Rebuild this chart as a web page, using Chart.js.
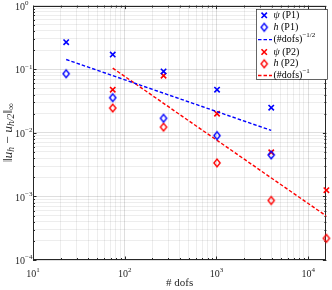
<!DOCTYPE html>
<html>
<head>
<meta charset="utf-8">
<script src="https://cdn.jsdelivr.net/npm/chart.js@4.4.1/dist/chart.umd.min.js"></script>
<style>
  html, body { margin: 0; padding: 0; background: #fff; }
</style>
</head>
<body>
<canvas id="conv" width="332" height="290"></canvas>
<script>
// values
const dofsP1 = [23, 74, 265, 1015, 3955];
const psiP1  = [0.266, 0.170, 0.0922, 0.0476, 0.0248];
const hP1    = [0.0849, 0.0357, 0.0169, 0.00904, 0.00449];

const dofsP2 = [74, 265, 1015, 3955, 15800];
const psiP2  = [0.0476, 0.0789, 0.0200, 0.00494, 0.00125];
const hP2    = [0.0245, 0.0123, 0.00336, 0.000864, 0.000219];

// reference slopes (end points)
const rateP1X = [23, 3955];
const rateP1Y = [0.142, 0.0109];
const rateP2X = [74, 15800];
const rateP2Y = [0.104, 0.00049];

const xDecades = [10, 100, 1000, 10000];
const xExps = ['1', '2', '3', '4'];
const yDecades = [1e-4, 1e-3, 1e-2, 1e-1, 1];
const yExps = ['\u22124', '\u22123', '\u22122', '\u22121', '0'];

const BLUE = '#0000ff';
const RED = '#ff0000';
const DASH = [3.5, 2];
const serif = '"Liberation Serif", "DejaVu Serif", serif';

function setFont(ctx, size, italic) {
  ctx.font = (italic ? 'italic ' : '') + size + 'px ' + serif;
}
function richWidth(ctx, parts) {
  let w = 0;
  parts.forEach(p => { setFont(ctx, p.s, p.i); w += ctx.measureText(p.t).width; });
  return w;
}
function drawRich(ctx, parts, x, y, align) {
  let cx = x;
  if (align === 'center') cx -= richWidth(ctx, parts) / 2;
  if (align === 'right') cx -= richWidth(ctx, parts);
  parts.forEach(p => {
    setFont(ctx, p.s, p.i);
    ctx.fillText(p.t, cx, y + (p.dy || 0));
    cx += ctx.measureText(p.t).width;
  });
}

function makeDiamond(color) {
  const c = document.createElement('canvas');
  c.width = 10; c.height = 12;
  const g = c.getContext('2d');
  g.strokeStyle = color;
  g.lineWidth = 1.4;
  g.beginPath();
  g.moveTo(5, 2.1); g.lineTo(8.1, 6); g.lineTo(5, 9.9); g.lineTo(1.9, 6);
  g.closePath();
  g.stroke();
  return c;
}
const diamondBlue = makeDiamond(BLUE);
const diamondRed = makeDiamond(RED);

// ticks at 1..9 x 10^n, decades are major
function logTicks(scale) {
  const decs = scale.axis === 'x' ? xDecades : yDecades;
  const ticks = [];
  decs.forEach(d => {
    for (let m = 1; m <= 9; m++) {
      const v = d * m;
      if (v >= scale.min * 0.999 && v <= scale.max * 1.001) ticks.push({ value: v, major: m === 1 });
    }
  });
  scale.ticks = ticks;
}
const gridColor = c => (c.tick && c.tick.major) ? 'rgba(0,0,0,0.13)' : 'rgba(0,0,0,0.07)';

const toXY = (xs, ys) => xs.map((v, i) => ({ x: v, y: ys[i] }));

const legendRows = [
  { mark: 'cross', color: BLUE, parts: [{ t: '\u03c8', s: 10, i: true }, { t: ' (P1)', s: 10 }] },
  { mark: 'diamond', color: BLUE, parts: [{ t: 'h', s: 10, i: true }, { t: ' (P1)', s: 10 }] },
  { mark: 'line', color: BLUE, parts: [{ t: '(#dofs)', s: 10 }, { t: '\u22121/2', s: 7, dy: -4 }] },
  { mark: 'cross', color: RED, parts: [{ t: '\u03c8', s: 10, i: true }, { t: ' (P2)', s: 10 }] },
  { mark: 'diamond', color: RED, parts: [{ t: 'h', s: 10, i: true }, { t: ' (P2)', s: 10 }] },
  { mark: 'line', color: RED, parts: [{ t: '(#dofs)', s: 10 }, { t: '\u22121', s: 7, dy: -4 }] }
];
const legendY = [15.3, 27.3, 39.6, 52, 63.8, 75.5];

const decor = {
  id: 'decor',
  beforeDatasetsDraw(chart) {
    const { ctx, chartArea: a, scales: { x, y } } = chart;
    ctx.save();
    ctx.strokeStyle = '#262626';
    ctx.lineWidth = 1;
    ctx.beginPath();
    x.ticks.forEach(t => {
      const px = Math.round(x.getPixelForValue(t.value)) + 0.5;
      const len = t.major ? 3.5 : 2;
      ctx.moveTo(px, a.bottom); ctx.lineTo(px, a.bottom - len);
      ctx.moveTo(px, a.top); ctx.lineTo(px, a.top + len);
    });
    y.ticks.forEach(t => {
      const py = Math.round(y.getPixelForValue(t.value)) + 0.5;
      const len = t.major ? 3.5 : 2;
      ctx.moveTo(a.left, py); ctx.lineTo(a.left + len, py);
      ctx.moveTo(a.right, py); ctx.lineTo(a.right - len, py);
    });
    ctx.stroke();
    ctx.strokeRect(Math.round(a.left) + 0.5, Math.round(a.top) + 0.5,
      Math.round(a.right - a.left) - 1, Math.round(a.bottom - a.top) - 1);
    ctx.restore();
  },
  afterDraw(chart) {
    const { ctx, chartArea: a, scales: { x, y } } = chart;
    ctx.save();
    ctx.fillStyle = '#262626';
    ctx.textBaseline = 'middle';

    // tick labels
    xDecades.forEach((v, i) => {
      const px = x.getPixelForValue(v);
      drawRich(ctx, [{ t: '10', s: 10 }, { t: xExps[i], s: 7, dy: -4 }], px, 274, 'center');
    });
    yDecades.forEach((v, i) => {
      const py = y.getPixelForValue(v);
      drawRich(ctx, [{ t: '10', s: 10 }, { t: yExps[i], s: 7, dy: -4 }], 15, py + 1.5, 'left');
    });

    // axis titles
    drawRich(ctx, [{ t: '# dofs', s: 11 }], (a.left + a.right) / 2, 283, 'center');
    ctx.save();
    ctx.translate(8, (a.top + a.bottom) / 2);
    ctx.rotate(-Math.PI / 2);
    drawRich(ctx, [
      { t: '\u2016', s: 13.5 }, { t: 'u', s: 13.5, i: true }, { t: 'h', s: 9.5, i: true, dy: 3 },
      { t: ' \u2212 ', s: 13.5 }, { t: 'u', s: 13.5, i: true }, { t: 'h/2', s: 9.5, i: true, dy: 3 },
      { t: '\u2016', s: 13.5 }, { t: '\u221e', s: 9.5, dy: 3 }
    ], 0, 0, 'center');
    ctx.restore();

    // legend
    const bx = 256.5, by = 9.5, bw = 71, bh = 70;
    ctx.fillStyle = '#fff';
    ctx.fillRect(bx, by, bw, bh);
    ctx.strokeStyle = '#262626';
    ctx.lineWidth = 0.7;
    ctx.strokeRect(bx, by, bw, bh);
    legendRows.forEach((r, i) => {
      const ly = legendY[i];
      ctx.strokeStyle = r.color;
      if (r.mark === 'cross') {
        ctx.lineWidth = 1.6;
        ctx.beginPath();
        ctx.moveTo(261.5, ly - 2.7); ctx.lineTo(266.9, ly + 2.7);
        ctx.moveTo(266.9, ly - 2.7); ctx.lineTo(261.5, ly + 2.7);
        ctx.stroke();
      } else if (r.mark === 'diamond') {
        const img = r.color === BLUE ? diamondBlue : diamondRed;
        ctx.drawImage(img, 264.2 - img.width / 2, ly - img.height / 2);
      } else {
        ctx.lineWidth = 1.4;
        ctx.setLineDash(DASH);
        ctx.beginPath();
        ctx.moveTo(258, ly); ctx.lineTo(272, ly);
        ctx.stroke();
        ctx.setLineDash([]);
      }
      ctx.fillStyle = '#000';
      drawRich(ctx, r.parts, 273.5, ly, 'left');
    });
    ctx.restore();
  }
};

new Chart(document.getElementById('conv'), {
  type: 'scatter',
  data: {
    datasets: [
      { label: '\u03c8 (P1)', data: toXY(dofsP1, psiP1), pointStyle: 'crossRot', pointRadius: 3.8,
        pointBorderColor: BLUE, pointBorderWidth: 1.6, clip: false },
      { label: 'h (P1)', data: toXY(dofsP1, hP1), pointStyle: diamondBlue, pointRadius: 4, clip: false },
      { label: '(#dofs)^-1/2', data: toXY(rateP1X, rateP1Y), showLine: true, borderColor: BLUE,
        borderWidth: 1.4, borderDash: DASH, pointRadius: 0 },
      { label: '\u03c8 (P2)', data: toXY(dofsP2, psiP2), pointStyle: 'crossRot', pointRadius: 3.8,
        pointBorderColor: RED, pointBorderWidth: 1.6, clip: false },
      { label: 'h (P2)', data: toXY(dofsP2, hP2), pointStyle: diamondRed, pointRadius: 4, clip: false },
      { label: '(#dofs)^-1', data: toXY(rateP2X, rateP2Y), showLine: true, borderColor: RED,
        borderWidth: 1.4, borderDash: DASH, pointRadius: 0 }
    ]
  },
  options: {
    responsive: false,
    animation: false,
    layout: { padding: { left: 33, right: 4, top: 5, bottom: 30 } },
    plugins: { legend: { display: false }, tooltip: { enabled: false } },
    scales: {
      x: {
        type: 'logarithmic', min: 10, max: 15800,
        afterBuildTicks: logTicks,
        ticks: { display: false },
        grid: { drawTicks: false, color: gridColor },
        border: { display: false }
      },
      y: {
        type: 'logarithmic', min: 1e-4, max: 1,
        afterBuildTicks: logTicks,
        ticks: { display: false },
        grid: { drawTicks: false, color: gridColor },
        border: { display: false }
      }
    }
  },
  plugins: [decor]
});
</script>
</body>
</html>
